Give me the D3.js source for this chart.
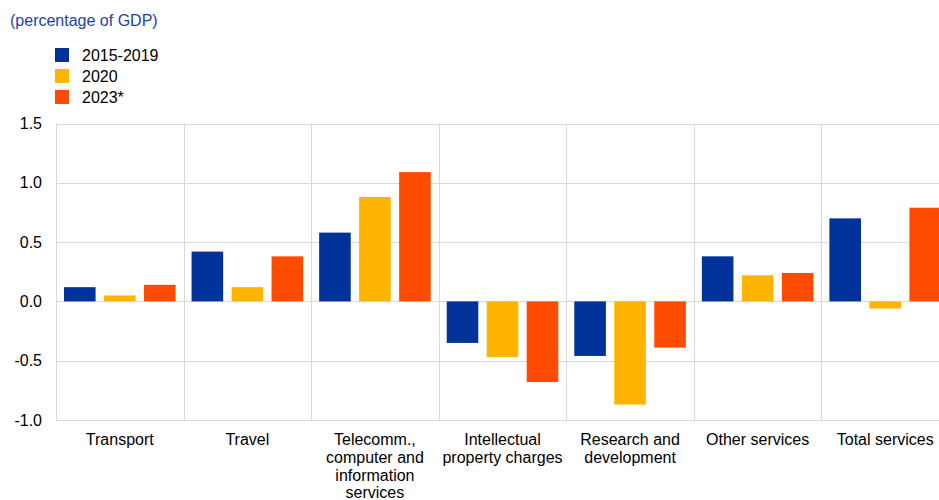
<!DOCTYPE html>
<html><head><meta charset="utf-8">
<script src="https://cdn.jsdelivr.net/npm/d3@7"></script>
<style>body{margin:0;background:#fff;} svg{display:block;font-family:"Liberation Sans",Arial,sans-serif;}</style>
</head><body>
<svg id="c" width="939" height="500"></svg>
<script>
const categories = ["Transport","Travel","Telecomm., computer and information services","Intellectual property charges","Research and development","Other services","Total services"];
const categoryLines = [["Transport"],["Travel"],["Telecomm.,","computer and","information","services"],["Intellectual","property charges"],["Research and","development"],["Other services"],["Total services"]];
const seriesNames = ["2015-2019","2020","2023*"];
const s2015_2019 = [0.12,0.42,0.58,-0.35,-0.46,0.38,0.70];
const s2020 = [0.05,0.12,0.88,-0.47,-0.87,0.22,-0.06];
const s2023 = [0.14,0.38,1.09,-0.68,-0.39,0.24,0.79];
const yTicks = [-1.0,-0.5,0.0,0.5,1.0,1.5];
const colors = ["#003299","#FFB400","#FF4B00"];
const series = [s2015_2019, s2020, s2023];

const svg = d3.select("#c");
const L = 56, R = 949, T = 123.5, B = 420;
const x = d3.scaleBand().domain(categories).range([L, R]).padding(0);
const xi = d3.scaleBand().domain(seriesNames).range([0, x.bandwidth()]).paddingInner(0.21).paddingOuter(0.2);
const y = d3.scaleLinear().domain([-1, 1.5]).range([B, T]);

svg.append("g").selectAll("line").data(yTicks).join("line")
  .attr("x1", L).attr("x2", R)
  .attr("y1", d => Math.round(y(d))+0.5).attr("y2", d => Math.round(y(d))+0.5)
  .attr("stroke", "#d9d9d9").attr("stroke-width", 1);
const seps = categories.map(c => x(c));
svg.append("g").selectAll("line").data(seps).join("line")
  .attr("x1", d => Math.round(d)+0.5).attr("x2", d => Math.round(d)+0.5)
  .attr("y1", T).attr("y2", B)
  .attr("stroke", "#d9d9d9").attr("stroke-width", 1);

svg.append("g").selectAll("text").data(yTicks).join("text")
  .attr("x", 42).attr("y", d => y(d)+5.5)
  .attr("text-anchor", "end").attr("font-size", 16).attr("fill", "#000")
  .text(d => d3.format(".1f")(d).replace("\u2212", "-"));

series.forEach((vals, si) => {
  svg.append("g").selectAll("rect").data(vals).join("rect")
    .attr("x", (d,i) => x(categories[i]) + xi(seriesNames[si]))
    .attr("width", xi.bandwidth())
    .attr("y", d => y(Math.max(0,d)))
    .attr("height", d => Math.abs(y(d)-y(0)))
    .attr("fill", colors[si]);
});

const lab = svg.append("g");
categories.forEach((c,i) => {
  const t = lab.append("text").attr("text-anchor","middle").attr("font-size",16).attr("fill","#000");
  categoryLines[i].forEach((ln,j) => {
    t.append("tspan").attr("x", x(c)+x.bandwidth()/2).attr("y", 445 + j*17.8).text(ln);
  });
});

svg.append("text").attr("x", 10).attr("y", 25.5).attr("font-size", 16).attr("fill", "#1a44a0").text("(percentage of GDP)");

const lg = svg.append("g");
seriesNames.forEach((n,i) => {
  lg.append("rect").attr("x", 55).attr("y", 48 + i*21).attr("width", 14).attr("height", 14).attr("fill", colors[i]);
  lg.append("text").attr("x", 82).attr("y", 60.5 + i*21).attr("font-size", 16).attr("fill", "#000").text(n);
});
</script>
</body></html>
